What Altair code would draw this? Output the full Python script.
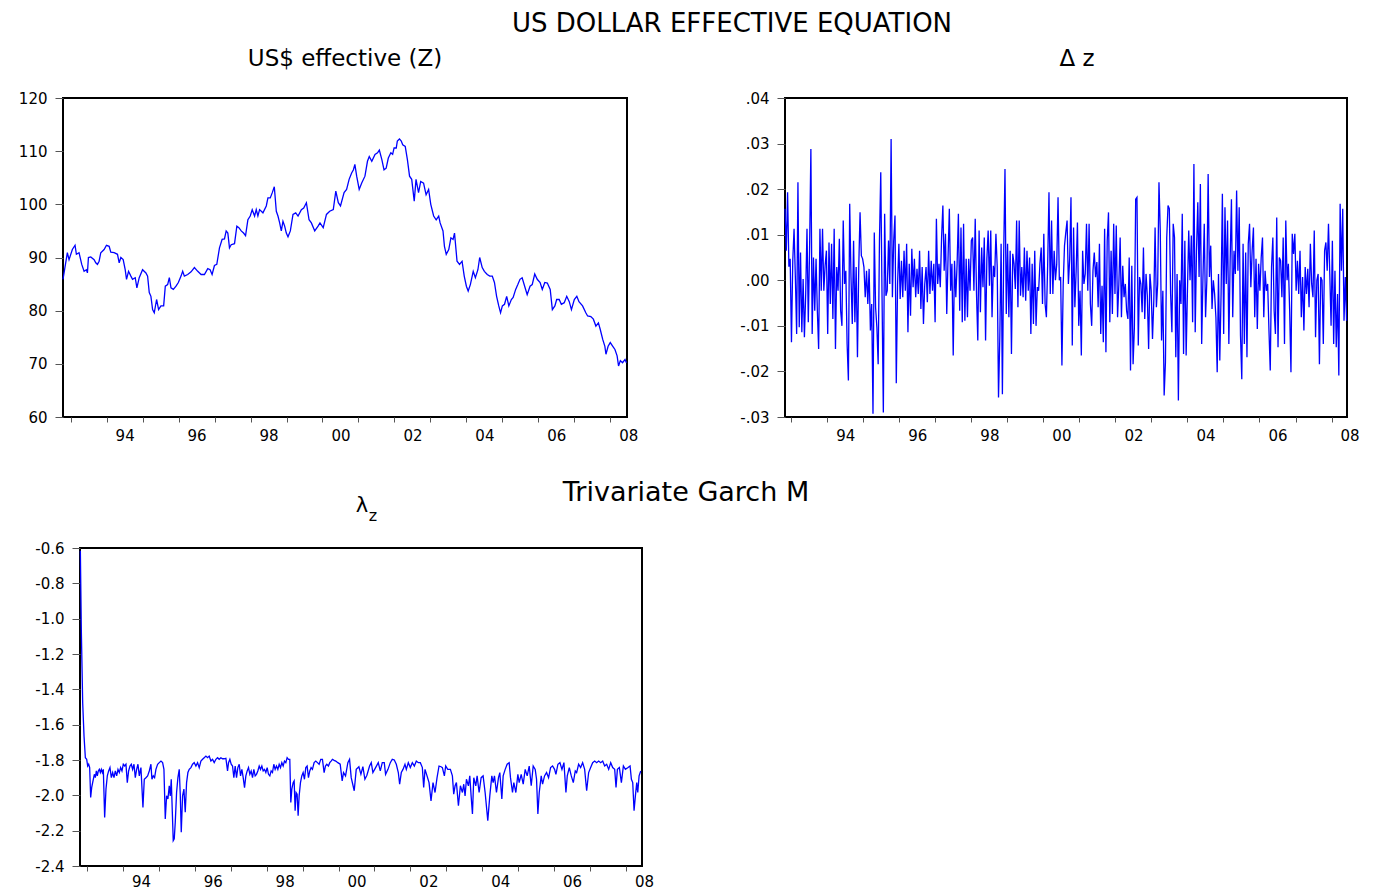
import altair as alt
import numpy as np
import pandas as pd

# ---------------- US$ effective (Z) ----------------
z_years = [1992.786, 1992.907, 1992.954, 1993.046, 1993.121, 1993.158, 1993.232, 1993.307, 1993.372, 1993.437,
           1993.465, 1993.493, 1993.558, 1993.651, 1993.697, 1993.743, 1993.790, 1993.836, 1993.929, 1993.994,
           1994.069, 1994.115, 1994.208, 1994.301, 1994.348, 1994.394, 1994.459, 1994.515, 1994.552, 1994.608,
           1994.673, 1994.719, 1994.794, 1994.840, 1994.905, 1994.998, 1995.091, 1995.138, 1995.184, 1995.230,
           1995.277, 1995.323, 1995.388, 1995.444, 1995.509, 1995.584, 1995.630, 1995.695, 1995.742, 1995.788,
           1995.853, 1995.928, 1995.993, 1996.067, 1996.113, 1996.160, 1996.253, 1996.346, 1996.439, 1996.532,
           1996.625, 1996.717, 1996.810, 1996.875, 1996.931, 1996.996, 1997.061, 1997.136, 1997.210, 1997.275,
           1997.322, 1997.368, 1997.414, 1997.461, 1997.554, 1997.619, 1997.675, 1997.740, 1997.805, 1997.861,
           1997.926, 1997.991, 1998.046, 1998.112, 1998.158, 1998.204, 1998.251, 1998.344, 1998.437, 1998.483,
           1998.548, 1998.604, 1998.660, 1998.716, 1998.762, 1998.809, 1998.855, 1998.901, 1998.948, 1998.994,
           1999.041, 1999.106, 1999.180, 1999.255, 1999.320, 1999.413, 1999.478, 1999.552, 1999.626, 1999.691,
           1999.784, 1999.877, 1999.93, 2000.02, 2000.11, 2000.20, 2000.30, 2000.37, 2000.44, 2000.50,
           2000.60, 2000.67, 2000.74, 2000.81, 2000.86, 2000.90, 2000.95, 2001.02, 2001.09, 2001.18,
           2001.25, 2001.30, 2001.37, 2001.46, 2001.53, 2001.58, 2001.65, 2001.71, 2001.77, 2001.83,
           2001.90, 2001.95, 2001.99, 2002.05, 2002.08, 2002.14, 2002.19, 2002.23, 2002.30, 2002.36,
           2002.42, 2002.48, 2002.55, 2002.60, 2002.67, 2002.73, 2002.81, 2002.88, 2002.95, 2003.01,
           2003.09, 2003.16, 2003.23, 2003.27, 2003.35, 2003.39, 2003.44, 2003.51, 2003.57, 2003.63,
           2003.67, 2003.74, 2003.81, 2003.88, 2003.94, 2004.00, 2004.05, 2004.11, 2004.19, 2004.25,
           2004.32, 2004.37, 2004.44, 2004.50, 2004.58, 2004.65, 2004.72, 2004.78, 2004.84, 2004.90,
           2004.95, 2005.00, 2005.06, 2005.12, 2005.18, 2005.25, 2005.30, 2005.37, 2005.43, 2005.49,
           2005.55, 2005.62, 2005.69, 2005.77, 2005.83, 2005.90, 2005.97, 2006.05, 2006.11, 2006.18,
           2006.25, 2006.33, 2006.39, 2006.46, 2006.51, 2006.58, 2006.64, 2006.72, 2006.79, 2006.86,
           2006.92, 2007.00, 2007.07, 2007.13, 2007.23, 2007.32, 2007.37, 2007.46, 2007.53, 2007.60,
           2007.67, 2007.72, 2007.79, 2007.85, 2007.88, 2007.94, 2008.00, 2008.07, 2008.13, 2008.19,
           2008.23, 2008.28, 2008.34, 2008.41, 2008.45]
z_values = [85.9, 90.9, 89.6, 91.5, 92.3, 90.6, 90.9, 88.7, 87.4, 87.7,
            87.1, 90.0, 90.1, 89.6, 89.0, 88.7, 89.3, 90.9, 91.5, 92.3,
            92.1, 91.0, 90.9, 90.6, 89.0, 90.0, 89.6, 87.7, 85.9, 87.4,
            86.5, 85.9, 86.2, 84.3, 86.2, 87.7, 87.1, 86.5, 83.4, 82.7,
            80.2, 79.6, 82.1, 80.2, 80.9, 80.9, 84.6, 84.9, 86.2, 84.3,
            84.0, 84.6, 85.3, 86.5, 87.4, 86.5, 86.8, 87.3, 88.1, 87.4,
            86.8, 86.8, 87.9, 87.7, 86.8, 88.5, 88.7, 91.8, 93.4, 93.5,
            95.0, 94.6, 91.8, 92.4, 92.6, 95.9, 95.6, 95.0, 94.6, 94.1,
            97.1, 97.8, 99.0, 97.8, 99.0, 97.8, 99.0, 98.4, 99.7, 101.2,
            101.2, 102.2, 103.3, 98.7, 97.8, 96.5, 95.0, 96.8, 95.9, 94.6,
            93.9, 95.0, 98.1, 98.4, 97.8, 99.0, 99.3, 100.3, 97.1, 96.5,
            95.0, 95.9, 96.5, 95.6, 98.1, 98.7, 99.0, 102.5, 100.3, 99.7,
            102.2, 102.8, 104.7, 105.9, 106.5, 107.5, 105.3, 102.8, 104.0, 105.3,
            108.1, 109.0, 108.1, 109.4, 109.7, 110.2, 108.4, 106.5, 106.8, 108.7,
            109.7, 109.4, 110.6, 110.6, 111.9, 112.3, 111.9, 111.2, 110.9, 108.4,
            105.3, 104.7, 100.6, 104.7, 102.2, 104.3, 104.0, 101.8, 102.8, 100.0,
            97.8, 97.1, 97.8, 96.5, 95.0, 92.1, 90.6, 91.5, 93.7, 93.4,
            94.6, 89.3, 88.7, 89.3, 86.5, 84.6, 83.7, 84.9, 87.4, 86.2,
            87.7, 90.0, 88.1, 87.4, 86.8, 86.5, 86.5, 85.3, 82.7, 80.9,
            79.6, 80.9, 81.2, 82.7, 80.9, 82.1, 82.5, 84.0, 84.9, 85.9,
            86.2, 84.6, 83.0, 84.6, 84.9, 86.9, 85.9, 85.3, 84.0, 85.3,
            85.2, 84.0, 80.2, 80.9, 82.1, 82.1, 81.2, 81.5, 82.7, 81.7,
            80.2, 82.1, 82.7, 81.7, 80.9, 79.6, 79.0, 78.9, 78.4, 77.1,
            77.7, 76.5, 74.6, 73.3, 71.8, 73.3, 74.0, 73.3, 72.7, 71.5,
            69.6, 70.6, 70.2, 70.8, 70.2]

# ---------------- Delta z (roughly two-weekly readings, evenly spaced) ----------------
dz_first_year = 1992.824
dz_last_year = 2008.419
dz_values = [
    .0157, .0065, .0193, .003, .0047, -.0136, .0043, .0113, .0007,
    -.0118, .0215, -.0103, .0061, -.0114, .0003, -.0125, -.003, .0113, -.0092, .0069, .0288, -.0118, .005,
    -.0067, .0047, -.0067, -.0151, .0113, -.0023, .0113, -.0023, .0032, .0065, -.0118, .0083, -.0052, .008,
    -.0085, .0113, -.0151, .0029, -.0023, .0091, -.0067, -.010, .0131, -.0008, .0021, -.014, -.022, .0168,
    .0007, -.0096, .0087, -.0092, .0029, -.0169, .0029, .0149, .0054, .0047, .0029, -.0037, .0021, -.0052, .0025,
    -.011, -.0052, -.0293, .0105, -.0059, -.0103, -.0184, .0087, .0237, -.0037, -.029, .0146, -.0034, -.0023, .0087,
    -.0008, .031, -.0037, .0087, .0142, -.0226, -.0008, .008, -.0041, .0043, -.0037, .0065, -.0023, .008, -.0114,
    .0036, -.0078, .0069, -.0015, .0047, -.0037, .0025, -.003, .0065, -.0063, .0029, -.0096, -.0008, .0029,
    -.0048, .0065, -.003, .0043, -.0023, .0036, -.0092, .0135, -.0008, .0036, -.0015, .0094, .0164, .0021,
    .0102, -.0074, .005, .0157, -.0023, .0036, -.0165, .0043, -.0037, .0036, .0146, -.0067, .0116, -.0092,
    .0124, -.0089, .0047, -.0081, .0047, -.0023, .0087, .0094, -.0023, .0135, -.003, -.0132, .0109, -.007,
    .0072, -.0015, .0094, -.0132, .0047, .0109, -.0012, .0109, -.0081, .0032, .0007, .0102, .0029, -.0257,
    -.0125, .008, -.025, .0058, .0244,
    -.0074, .008, -.0081, .0065, -.0162, .0058, .0036, -.0019, .0131, -.0059, .0131, -.0034, .0029, -.0037,
    .0072, -.0045, .0065, -.0023, .005, -.0118, .0036, -.0096, .0065, -.010, -.0015, -.0023, .0036, .0072,
    -.0052, .0102, -.0052, -.0081, .0036, .0193, -.003, .0131,
    -.003, .0065, 0, .0036, .0182, 0, .0007, -.0187, -.0008, .0076, .0105, .0131, -.0008, .0047, .0182,
    -.0143, .0116, -.0059, .0021, .0127, -.010, -.0023, -.0165, .0065, -.0008, .0014, .0124, -.0023, .0124,
    -.0052, -.010, .0021, .0061, .0007, .004, -.0059, .008, -.0118, -.0012, -.0136, .0113, -.0158, .0087,
    .0149, -.0092, .0065, -.0074, .0124, -.003, .012, -.0081, -.0008, .0094, -.0081, .0032, -.0037, -.0008,
    -.0067, -.0085, .005,
    -.0198, .0032, -.0184, -.0103, .0178, .0182, -.0143, .0007, -.0008, -.007, .0072, -.0085, .0014, -.0034,
    -.0151, .0014, -.0023, -.0129, -.0045, .0116, -.0059, -.0008,
    .0215, .0109, -.0132, -.0023, -.0253, -.018, .0094, .0164, .0157, -.003, -.0114, .0124, .0094, -.0169,
    .0014, -.0264, 0, -.0052, .0146, -.0162, .0087, -.0165, -.0023, .0109, 0, .0098, -.0092, .0255, -.0114,
    .0065, .0171, .0007, .0211, -.014, .0007, .0124, -.0081, 0, .0233, .0007, .0076, -.0063, 0, -.003,
    -.0081, -.0202, .0014, -.0176, -.003, .019, -.0118, .016, -.0008, .0131, -.014, .0043,
    .0178, -.0081, .0065, .0014, .0197, .0021, .016, -.0121, -.0217, .008, -.014, .0061, -.0169, .008,
    .0124, -.0015, .0065, .0116, -.0081, .0047, -.0107, .0036, -.0023, .005, .0094, -.0081, .0021, -.0023,
    -.0008, -.011, -.0198, .0029, .0094, -.0067, -.0118, .0138, -.0147, .005, .0043, -.0037, .0094, -.014,
    .0131, 0, .0036, -.0067, -.0202, .0102, .0058, .0102, -.0023, .0043, -.003, .0065, -.0081, .0007,
    -.011, .0029, -.003, .0025, -.0059, .008, -.0008, -.0037, .0109, -.0125, 0, .0014, -.0184, .0007,
    0, -.014, .0065, .0083, .0021, .0124, .0014, -.010, .0087, -.014, .0021, -.0147, -.003, -.0209,
    .0168, .0021, .0157, -.0089, .0007, -.0089]

# ---------------- lambda_z ----------------
lam_years = [1992.815, 1992.842, 1992.880, 1992.917, 1992.954, 1992.991, 1993.019, 1993.046, 1993.074, 1993.102,
             1993.130, 1993.167, 1993.204, 1993.232, 1993.260, 1993.287, 1993.315, 1993.343, 1993.371, 1993.399,
             1993.426, 1993.454, 1993.491, 1993.528, 1993.565, 1993.602, 1993.639, 1993.677, 1993.714, 1993.751,
             1993.788, 1993.825, 1993.862, 1993.899, 1993.936, 1993.973, 1994.010, 1994.047, 1994.084, 1994.121,
             1994.158, 1994.196, 1994.233, 1994.270, 1994.307, 1994.344, 1994.381, 1994.418, 1994.455, 1994.501,
             1994.557, 1994.594, 1994.640, 1994.687, 1994.733, 1994.779, 1994.807, 1994.844, 1994.881, 1994.918,
             1994.965, 1995.011, 1995.058, 1995.104, 1995.141, 1995.178, 1995.215, 1995.252, 1995.289, 1995.317,
             1995.345, 1995.373, 1995.400, 1995.428, 1995.456, 1995.493, 1995.530, 1995.567, 1995.595, 1995.623,
             1995.660, 1995.697, 1995.734, 1995.771, 1995.808, 1995.845, 1995.892, 1995.938, 1995.984, 1996.031,
             1996.077, 1996.123, 1996.170, 1996.216, 1996.262, 1996.309, 1996.355, 1996.401, 1996.448, 1996.494,
             1996.540, 1996.587, 1996.633, 1996.679, 1996.726, 1996.772, 1996.818, 1996.865, 1996.911, 1996.939,
             1996.976, 1997.013, 1997.050, 1997.087, 1997.124, 1997.161, 1997.198, 1997.236, 1997.273, 1997.310,
             1997.347, 1997.384, 1997.421, 1997.458, 1997.495, 1997.532, 1997.569, 1997.606, 1997.643, 1997.680,
             1997.717, 1997.754, 1997.792, 1997.829, 1997.866, 1997.903, 1997.940, 1997.977, 1998.014, 1998.051,
             1998.088, 1998.125, 1998.162, 1998.199, 1998.236, 1998.273, 1998.311, 1998.348, 1998.385, 1998.422,
             1998.459, 1998.496, 1998.533, 1998.570, 1998.607, 1998.644, 1998.672, 1998.700, 1998.737, 1998.765,
             1998.792, 1998.820, 1998.848, 1998.876, 1998.904, 1998.941, 1998.978, 1999.015, 1999.052, 1999.089,
             1999.126, 1999.163, 1999.200, 1999.237, 1999.274, 1999.321, 1999.367, 1999.413, 1999.460, 1999.506,
             1999.552, 1999.599, 1999.636, 1999.673, 1999.719, 1999.756, 1999.793, 1999.830, 1999.877, 1999.923,
             1999.981, 2000.046, 2000.102, 2000.139, 2000.195, 2000.260, 2000.307, 2000.353, 2000.437, 2000.493,
             2000.567, 2000.623, 2000.678, 2000.734, 2000.790, 2000.864, 2000.911, 2000.957, 2001.032, 2001.106,
             2001.162, 2001.218, 2001.273, 2001.310, 2001.376, 2001.441, 2001.496, 2001.552, 2001.608, 2001.664,
             2001.701, 2001.747, 2001.794, 2001.849, 2001.887, 2001.942, 2001.998, 2002.054, 2002.110, 2002.165,
             2002.221, 2002.277, 2002.333, 2002.370, 2002.407, 2002.463, 2002.519, 2002.574, 2002.630, 2002.686,
             2002.742, 2002.797, 2002.853, 2002.890, 2002.946, 2002.983, 2003.039, 2003.113, 2003.169, 2003.206,
             2003.244, 2003.281, 2003.337, 2003.392, 2003.448, 2003.485, 2003.522, 2003.560, 2003.615, 2003.653,
             2003.690, 2003.727, 2003.764, 2003.820, 2003.857, 2003.913, 2003.969, 2004.024, 2004.080, 2004.154,
             2004.210, 2004.266, 2004.303, 2004.340, 2004.396, 2004.452, 2004.489, 2004.545, 2004.582, 2004.638,
             2004.693, 2004.749, 2004.786, 2004.842, 2004.879, 2004.935, 2004.991, 2005.028, 2005.084, 2005.140,
             2005.195, 2005.251, 2005.307, 2005.363, 2005.418, 2005.474, 2005.511, 2005.548, 2005.586, 2005.641,
             2005.679, 2005.734, 2005.790, 2005.846, 2005.902, 2005.957, 2006.013, 2006.050, 2006.106, 2006.162,
             2006.218, 2006.273, 2006.329, 2006.366, 2006.422, 2006.478, 2006.534, 2006.589, 2006.627, 2006.682,
             2006.738, 2006.794, 2006.850, 2006.906, 2006.961, 2007.017, 2007.073, 2007.129, 2007.184, 2007.240,
             2007.296, 2007.352, 2007.407, 2007.463, 2007.519, 2007.575, 2007.630, 2007.686, 2007.723, 2007.761,
             2007.816, 2007.872, 2007.928, 2007.984, 2008.058, 2008.114, 2008.151, 2008.188, 2008.225, 2008.262,
             2008.300, 2008.328, 2008.365, 2008.411]
lam_values = [-0.615, -1.065, -1.478, -1.665, -1.787, -1.796, -1.834, -1.824, -1.843, -2.012,
              -1.956, -1.918, -1.881, -1.900, -1.862, -1.890, -1.862, -1.853, -1.871, -1.853,
              -1.871, -1.853, -2.125, -1.965, -1.890, -1.862, -1.843, -1.900, -1.871, -1.900,
              -1.862, -1.890, -1.853, -1.871, -1.843, -1.862, -1.824, -1.834, -1.824, -1.928,
              -1.862, -1.834, -1.824, -1.853, -1.824, -1.900, -1.853, -1.824, -1.890, -1.843,
              -2.068, -1.909, -1.900, -1.890, -1.862, -1.824, -1.909, -1.890, -1.900, -1.853,
              -1.824, -1.815, -1.806, -1.815, -1.853, -2.134, -2.003, -2.021, -1.946, -2.003,
              -1.909, -2.087, -2.256, -2.246, -2.153, -1.984, -1.900, -1.853, -1.993, -2.209,
              -2.003, -1.965, -2.096, -1.928, -1.871, -1.853, -1.843, -1.824, -1.815, -1.834,
              -1.815, -1.843, -1.806, -1.796, -1.787, -1.778, -1.787, -1.778, -1.806, -1.796,
              -1.815, -1.796, -1.787, -1.796, -1.787, -1.793, -1.793, -1.790, -1.862, -1.815,
              -1.796, -1.824, -1.834, -1.900, -1.834, -1.900, -1.843, -1.824, -1.890, -1.853,
              -1.900, -1.956, -1.890, -1.862, -1.843, -1.881, -1.862, -1.900, -1.853, -1.890,
              -1.881, -1.862, -1.834, -1.853, -1.834, -1.862, -1.853, -1.871, -1.843, -1.881,
              -1.890, -1.862, -1.871, -1.824, -1.853, -1.834, -1.853, -1.824, -1.843, -1.815,
              -1.834, -1.806, -1.815, -1.787, -1.796, -1.796, -2.040, -1.965, -1.928, -1.918,
              -2.087, -1.984, -1.993, -2.115, -2.003, -1.928, -1.890, -1.871, -1.909, -1.843,
              -1.834, -1.900, -1.862, -1.843, -1.853, -1.815, -1.806, -1.815, -1.824, -1.796,
              -1.796, -1.871, -1.834, -1.824, -1.834, -1.815, -1.806, -1.796, -1.802, -1.806,
              -1.815, -1.824, -1.918, -1.871, -1.890, -1.815, -1.796, -1.900, -1.974, -1.853,
              -1.838, -1.881, -1.838, -1.909, -1.886, -1.834, -1.815, -1.871, -1.843, -1.815,
              -1.862, -1.815, -1.815, -1.881, -1.853, -1.815, -1.796, -1.800, -1.824, -1.871,
              -1.937, -1.871, -1.853, -1.824, -1.853, -1.815, -1.843, -1.815, -1.834, -1.806,
              -1.815, -1.815, -1.843, -1.956, -1.853, -1.890, -1.928, -2.031, -1.928, -1.984,
              -1.900, -1.834, -1.838, -1.843, -1.890, -1.834, -1.853, -1.853, -1.890, -1.993,
              -1.946, -1.928, -2.059, -1.946, -1.984, -1.937, -2.003, -1.909, -1.946, -1.890,
              -2.003, -2.106, -1.900, -1.946, -1.890, -1.984, -1.900, -1.890, -1.984, -2.143,
              -2.003, -1.890, -1.928, -1.890, -1.984, -1.900, -1.871, -2.021, -1.890, -1.853,
              -1.824, -1.815, -1.900, -1.984, -1.928, -1.984, -1.881, -1.928, -1.881, -1.937,
              -1.853, -1.890, -1.834, -1.946, -1.834, -1.853, -1.909, -2.106, -1.984, -1.890,
              -1.937, -1.890, -1.871, -1.900, -1.843, -1.834, -1.853, -1.881, -1.824, -1.815,
              -1.853, -1.815, -1.984, -1.890, -1.843, -1.890, -1.928, -1.862, -1.871, -1.824,
              -1.843, -1.815, -1.853, -1.974, -1.871, -1.843, -1.815, -1.806, -1.815, -1.806,
              -1.815, -1.806, -1.834, -1.824, -1.853, -1.815, -1.843, -1.853, -1.956, -1.853,
              -1.843, -1.928, -1.834, -1.853, -1.843, -1.834, -1.909, -1.928, -2.087, -2.003,
              -1.928, -1.984, -1.890, -1.862]

main_title = "US DOLLAR EFFECTIVE EQUATION"
sub_title = "Trivariate Garch M"
years_ticks = list(range(1993, 2009))
z_ticks = [60, 70, 80, 90, 100, 110, 120]
dz_ticks = [-0.03, -0.02, -0.01, 0.0, 0.01, 0.02, 0.03, 0.04]
lam_ticks = [-2.4, -2.2, -2.0, -1.8, -1.6, -1.4, -1.2, -1.0, -0.8, -0.6]

df_z = pd.DataFrame({"year": z_years, "value": z_values})
df_dz = pd.DataFrame({"year": np.linspace(dz_first_year, dz_last_year, len(dz_values)), "value": dz_values})
df_lam = pd.DataFrame({"year": lam_years, "value": lam_values})

FONT = "DejaVu Sans"
BLUE = "#0000FF"


def x_enc(domain, pad=6):
    return alt.X(
        "year:Q",
        scale=alt.Scale(domain=domain, nice=False, zero=False),
        axis=alt.Axis(
            values=years_ticks,
            labelExpr="datum.value % 2 == 0 ? slice(format(datum.value, 'd'), 2) : ''",
            labelOffset=18, tickSize=5, labelPadding=pad, labelOverlap=False,
            labelFlush=False, labelBound=False, title=None,
        ),
    )


def y_enc(domain, ticks, expr):
    return alt.Y(
        "value:Q",
        scale=alt.Scale(domain=domain, nice=False, zero=False),
        axis=alt.Axis(values=ticks, labelExpr=expr, tickSize=8, labelPadding=8,
                      labelOverlap=False, labelFlush=False, title=None),
    )


panel_z = alt.Chart(df_z).mark_line(color=BLUE, strokeWidth=1.3).encode(
    x=x_enc([1992.786, 2008.465]),
    y=y_enc([60, 120], z_ticks, "format(datum.value, 'd')"),
).properties(
    width=564, height=319,
    title=alt.TitleParams("US$ effective (Z)", font=FONT, fontSize=23, fontWeight="normal",
                          color="black", offset=20),
)

panel_dz = alt.Chart(df_dz).mark_line(color=BLUE, strokeWidth=1.3).encode(
    x=x_enc([1992.824, 2008.43]),
    y=y_enc([-0.03, 0.04], dz_ticks,
            "(datum.value < -0.0001 ? '-' : '') + replace(format(abs(datum.value), '.2f'), '0.', '.')"),
).properties(
    width=562, height=319,
    title=alt.TitleParams("\u0394 z", font=FONT, fontSize=23, fontWeight="normal",
                          color="black", offset=20, dx=11),
)

panel_lam = alt.Chart(df_lam).mark_line(color=BLUE, strokeWidth=1.3).encode(
    x=x_enc([1992.805, 2008.446], pad=3),
    y=y_enc([-2.4, -0.6], lam_ticks,
            "(datum.value < 0 ? '-' : '') + format(abs(datum.value), '.1f')"),
).properties(
    width=562, height=318,
    title=alt.TitleParams("\u03bb", font=FONT, fontSize=21, fontWeight="normal", color="black",
                          offset=25, anchor="start", align="center", frame="group", dx=282),
)

spacer = alt.Chart(pd.DataFrame({"a": [0]})).mark_point(opacity=0).encode(
    x=alt.X("a:Q", axis=None), y=alt.Y("a:Q", axis=None)
).properties(width=1, height=318, view=alt.ViewBackground(strokeOpacity=0))

inner_bottom = alt.hconcat(spacer, panel_lam, spacing=16, bounds="flush").properties(
    title=alt.TitleParams("z", font=FONT, fontSize=16, fontWeight="normal", color="black",
                          anchor="start", align="center", frame="group", dx=310, offset=-30)
)
bottom_row = alt.hconcat(inner_bottom).properties(
    title=alt.TitleParams(sub_title, font=FONT, fontSize=27, fontWeight="normal", color="black",
                          anchor="start", align="center", frame="group", dx=623, offset=-13)
)

top_row = alt.hconcat(panel_z, panel_dz, spacing=158, bounds="flush")

chart = alt.vconcat(top_row, bottom_row, spacing=35).properties(
    title=alt.TitleParams(main_title, font=FONT, fontSize=26, fontWeight="normal", color="black",
                          anchor="start", align="center", frame="group", dx=669, offset=10),
    padding={"left": 9, "top": 3, "right": 5, "bottom": 0},
).configure_view(
    stroke="black", strokeWidth=2
).configure_axis(
    labelFont=FONT, labelFontSize=15, labelColor="black", tickColor="#555555",
    domain=False, grid=False,
)

chart.save("out.html", embed_options={"renderer": "svg", "actions": False})
